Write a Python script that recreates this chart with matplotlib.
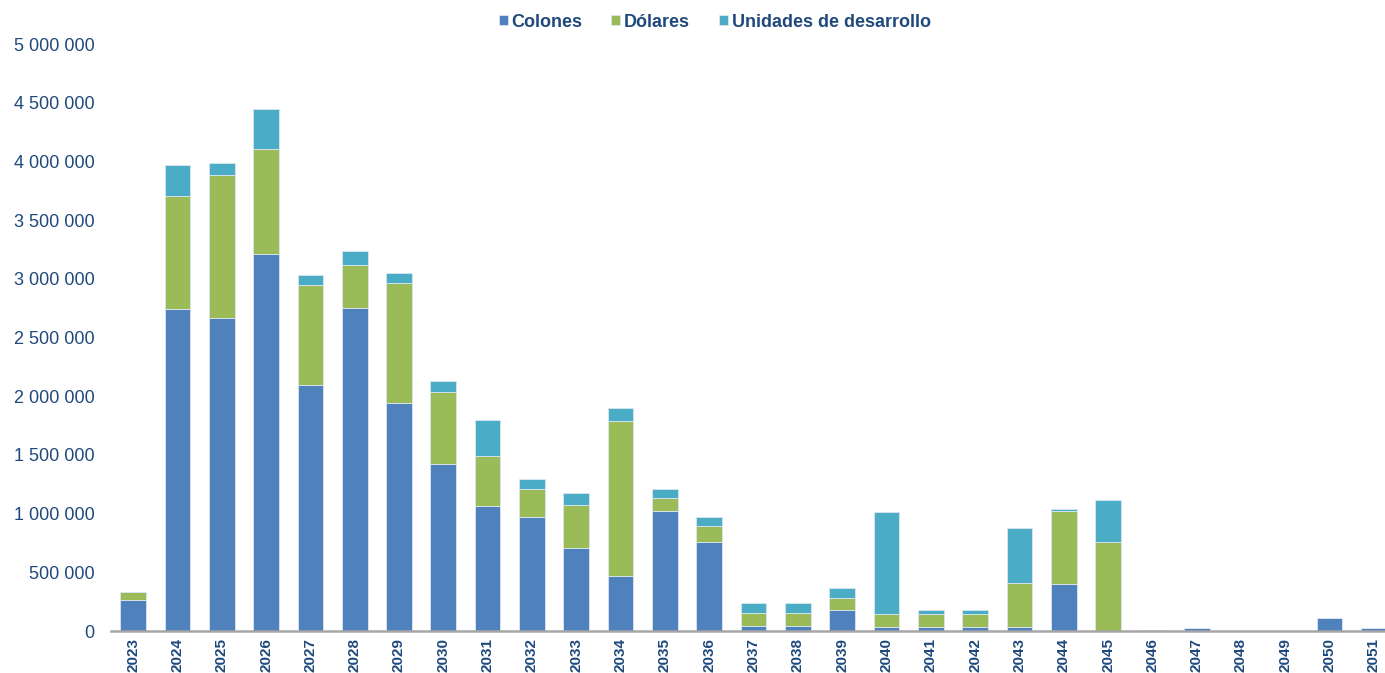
import matplotlib.pyplot as plt
import numpy as np
from matplotlib.ticker import FuncFormatter

plt.rcParams["font.family"] = ["Liberation Sans", "DejaVu Sans"]

years = [str(y) for y in range(2023, 2052)]

colones = [265000, 2743000, 2666000, 3211000, 2095000, 2751000, 1942000, 1422000,
           1065000, 971000, 707000, 468000, 1022000, 761000, 45000, 45000,
           181000, 37000, 37000, 37000, 37000, 400000, 0, 8000, 25000,
           3000, 3000, 108000, 25000]
dolares = [65000, 962000, 1218000, 895000, 852000, 367000, 1022000, 614000,
           426000, 239000, 366000, 1321000, 111000, 133000, 108000, 108000,
           100000, 105000, 105000, 105000, 372000, 625000, 758000, 0, 0,
           0, 0, 0, 0]
unidades = [0, 264000, 102000, 340000, 85000, 119000, 85000, 93000,
            306000, 85000, 102000, 111000, 77000, 80000, 83000, 83000,
            83000, 869000, 37000, 37000, 468000, 14000, 358000, 0, 0,
            0, 0, 0, 0]

C_COL = "#4F81BD"
C_DOL = "#9BBB59"
C_UD = "#4BACC6"
TXT = "#1F497D"

fig = plt.figure(figsize=(13.85, 6.73), dpi=100)
ax = fig.add_axes([0.0801, 0.0624, 0.9199, 0.8722])

x = np.arange(len(years))
w = 0.58
col = np.array(colones)
dol = np.array(dolares)
ud = np.array(unidades)

ax.bar(x, col, w, color=C_COL, edgecolor="#DCE6F1", linewidth=0.6, label="Colones")
ax.bar(x, dol, w, bottom=col, color=C_DOL, edgecolor="#DCE6F1", linewidth=0.6,
       label="Dólares")
ax.bar(x, ud, w, bottom=col + dol, color=C_UD, edgecolor="#DCE6F1", linewidth=0.6,
       label="Unidades de desarrollo")

ax.set_xlim(-0.5, 28.25)
ax.set_ylim(0, 5000000)
ax.set_yticks(np.arange(0, 5000001, 500000))
ax.yaxis.set_major_formatter(FuncFormatter(lambda v, p: f"{int(v):,}".replace(",", " ")))
ax.set_xticks(x)
ax.set_xticklabels(years, rotation=90, fontsize=11, fontweight="bold", color=TXT)
ax.tick_params(axis="y", length=0, pad=12, labelsize=13, labelcolor=TXT)
ax.tick_params(axis="x", length=0, pad=5)

for s in ["top", "right", "left"]:
    ax.spines[s].set_visible(False)
ax.spines["bottom"].set_color("#A6A6A6")
ax.spines["bottom"].set_linewidth(1.8)

leg = fig.legend(loc="center", bbox_to_anchor=(0.516, 0.967), ncol=3, frameon=False,
                 handlelength=0.5, handleheight=0.5, handletextpad=0.2,
                 columnspacing=1.6, prop={"weight": "bold", "size": 13})
for t in leg.get_texts():
    t.set_color(TXT)

fig.savefig("out.png", dpi=100)
